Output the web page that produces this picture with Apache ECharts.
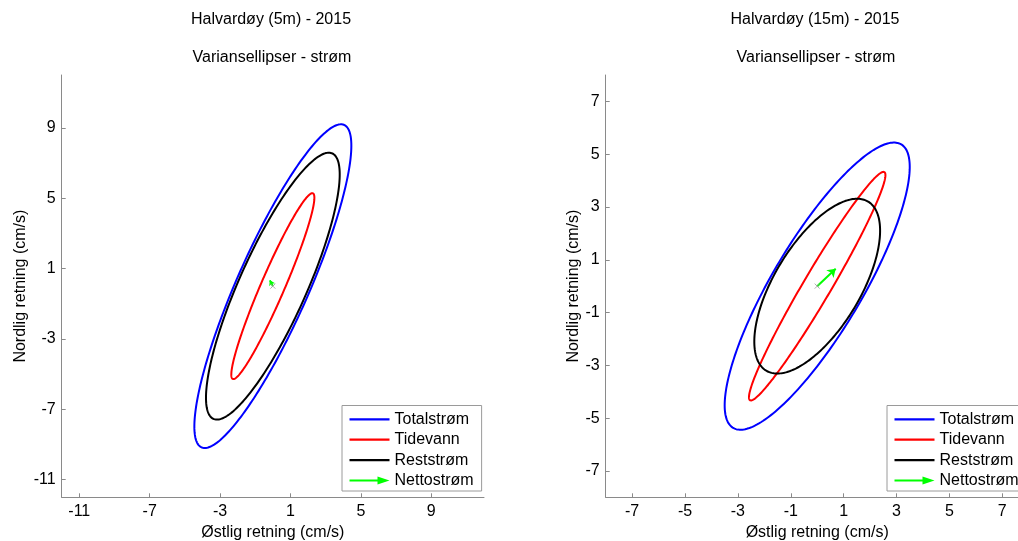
<!DOCTYPE html>
<html>
<head>
<meta charset="utf-8">
<script src="https://cdn.jsdelivr.net/npm/echarts@6/dist/echarts.min.js"></script>
<style>
html,body{margin:0;padding:0;background:#fff;}
#chart{width:1018px;height:541px;}
</style>
</head>
<body>
<div id="chart"></div>
<script>
// ---- Data ----
const seriesNames = ['Totalstrøm', 'Tidevann', 'Reststrøm', 'Nettostrøm'];
const seriesColors = ['#0000ff', '#ff0000', '#000000', '#00ff00'];
const panelTitles = ['Halvardøy (5m) - 2015', 'Halvardøy (15m) - 2015'];
const subTitle = 'Variansellipser - strøm';
const xAxisName = 'Østlig retning (cm/s)';
const yAxisName = 'Nordlig retning (cm/s)';

// variance ellipse parameters (cm/s)^2 : [Totalstrøm, Tidevann, Reststrøm]
const varU_5m  = [19.9, 5.57, 14.44];
const varV_5m  = [84.6, 27.9, 57.5];
const covUV_5m = [35.6, 11.85, 24.1];
const varU_15m  = [12.25, 6.66, 5.66];
const varV_15m  = [29.6, 18.75, 10.96];
const covUV_15m = [15.8, 10.86, 5.0];

// net current vector (cm/s): [5m, 15m]
const netU = [-0.17, 0.70];
const netV = [0.33, 0.66];

// axis ranges and tick labels
const range5m = [-12, 12];
const ticks5m = [-11, -7, -3, 1, 5, 9];
const range15m = [-8, 8];
const ticks15m = [-7, -5, -3, -1, 1, 3, 5, 7];

// ---- Chart ----
const FONT = 'Liberation Sans, Arial, sans-serif';
const AXIS_COLOR = '#8a8a8a';
const chart = echarts.init(document.getElementById('chart'));

function ellipseRender(params, api) {
  const cx = api.value(0), cy = api.value(1);
  const sxx = api.value(2), syy = api.value(3), sxy = api.value(4);
  const a = Math.sqrt(sxx);
  const b = sxy / a;
  const c = Math.sqrt(Math.max(syy - b * b, 0));
  const pts = [];
  const N = 240;
  for (let i = 0; i < N; i++) {
    const t = 2 * Math.PI * i / N;
    pts.push(api.coord([cx + a * Math.cos(t), cy + b * Math.cos(t) + c * Math.sin(t)]));
  }
  return {
    type: 'polygon',
    shape: { points: pts },
    style: { fill: 'none', stroke: api.visual('color'), lineWidth: 2 }
  };
}

function makeAxis(gridIndex, range, ticks, isX, nameGap) {
  return {
    type: 'value',
    gridIndex: gridIndex,
    min: range[0], max: range[1],
    name: isX ? xAxisName : yAxisName,
    nameLocation: 'middle',
    nameGap: nameGap,
    nameTextStyle: { fontFamily: FONT, fontSize: 16, color: '#000' },
    axisLine: { show: true, onZero: false, lineStyle: { color: AXIS_COLOR, width: 1 } },
    axisTick: { show: true, inside: true, length: 4, customValues: ticks, lineStyle: { color: AXIS_COLOR } },
    axisLabel: { show: true, customValues: ticks, margin: 6, fontFamily: FONT, fontSize: 16, color: '#000', showMinLabel: true, showMaxLabel: true },
    splitLine: { show: false }
  };
}

const lineIcon = 'path://M0,0 L40,0 L40,2.2 L0,2.2 Z';
const arrowIcon = 'path://M0,3.9 L28,3.9 L28,1 L40,5 L28,9 L28,6.1 L0,6.1 Z';

function makeLegend(left) {
  return {
    left: left, top: 405.5,
    orient: 'vertical',
    padding: [5.8, 8, 2.5, 7.5],
    itemWidth: 40, itemHeight: 10, itemGap: 4.4,
    borderColor: '#9a9a9a', borderWidth: 1, backgroundColor: '#fff',
    selectedMode: false,
    textStyle: { fontFamily: FONT, fontSize: 16, color: '#000' },
    data: seriesNames.map((n, i) => ({
      name: n,
      icon: i === 3 ? arrowIcon : lineIcon,
      itemStyle: { color: seriesColors[i], borderWidth: 0 }
    }))
  };
}

const panels = [
  { varU: varU_5m, varV: varV_5m, cov: covUV_5m, range: range5m, ticks: ticks5m, headSize: 5 },
  { varU: varU_15m, varV: varV_15m, cov: covUV_15m, range: range15m, ticks: ticks15m, headSize: 8 }
];

const series = [];
panels.forEach((p, pi) => {
  for (let k = 0; k < 3; k++) {
    series.push({
      type: 'custom',
      name: seriesNames[k],
      xAxisIndex: pi, yAxisIndex: pi,
      itemStyle: { color: seriesColors[k] },
      renderItem: ellipseRender,
      encode: { x: 0, y: 1 },
      data: [[0, 0, p.varU[k], p.varV[k], p.cov[k]]],
      silent: true,
      z: 2 + k
    });
  }
  series.push({
    type: 'scatter',
    xAxisIndex: pi, yAxisIndex: pi,
    symbol: 'path://M0,0 L10,10 M10,0 L0,10',
    symbolSize: 5,
    itemStyle: { color: 'none', borderColor: '#999', borderWidth: 1 },
    data: [[0, 0]],
    silent: true,
    z: 5
  });
  series.push({
    type: 'line',
    name: seriesNames[3],
    xAxisIndex: pi, yAxisIndex: pi,
    itemStyle: { color: seriesColors[3] },
    lineStyle: { color: seriesColors[3] },
    data: [],
    z: 6,
    markLine: {
      silent: true,
      symbol: ['none', 'arrow'],
      symbolSize: p.headSize,
      label: { show: false },
      lineStyle: { color: seriesColors[3], width: 2, type: 'solid' },
      emphasis: { disabled: true },
      data: [[{ coord: [0, 0] }, { coord: [netU[pi], netV[pi]] }]]
    }
  });
});

chart.setOption({
  animation: false,
  backgroundColor: '#ffffff',
  title: [
    { text: panelTitles[0], left: 271, top: 12, textAlign: 'center', padding: 0, textStyle: { fontFamily: FONT, fontSize: 16, fontWeight: 'normal', color: '#000' } },
    { text: subTitle, left: 272, top: 50, textAlign: 'center', padding: 0, textStyle: { fontFamily: FONT, fontSize: 16, fontWeight: 'normal', color: '#000' } },
    { text: panelTitles[1], left: 815, top: 12, textAlign: 'center', padding: 0, textStyle: { fontFamily: FONT, fontSize: 16, fontWeight: 'normal', color: '#000' } },
    { text: subTitle, left: 816, top: 50, textAlign: 'center', padding: 0, textStyle: { fontFamily: FONT, fontSize: 16, fontWeight: 'normal', color: '#000' } }
  ],
  legend: [makeLegend(342), makeLegend(887)],
  grid: [
    { left: 61.7, top: 75, width: 422.3, height: 422.3, containLabel: false, outerBoundsMode: 'none' },
    { left: 605.7, top: 75, width: 423, height: 422.3, containLabel: false, outerBoundsMode: 'none' }
  ],
  xAxis: [
    makeAxis(0, range5m, ticks5m, true, 27),
    makeAxis(1, range15m, ticks15m, true, 27)
  ],
  yAxis: [
    makeAxis(0, range5m, ticks5m, false, 33),
    makeAxis(1, range15m, ticks15m, false, 24)
  ],
  series: series
});
</script>
</body>
</html>
